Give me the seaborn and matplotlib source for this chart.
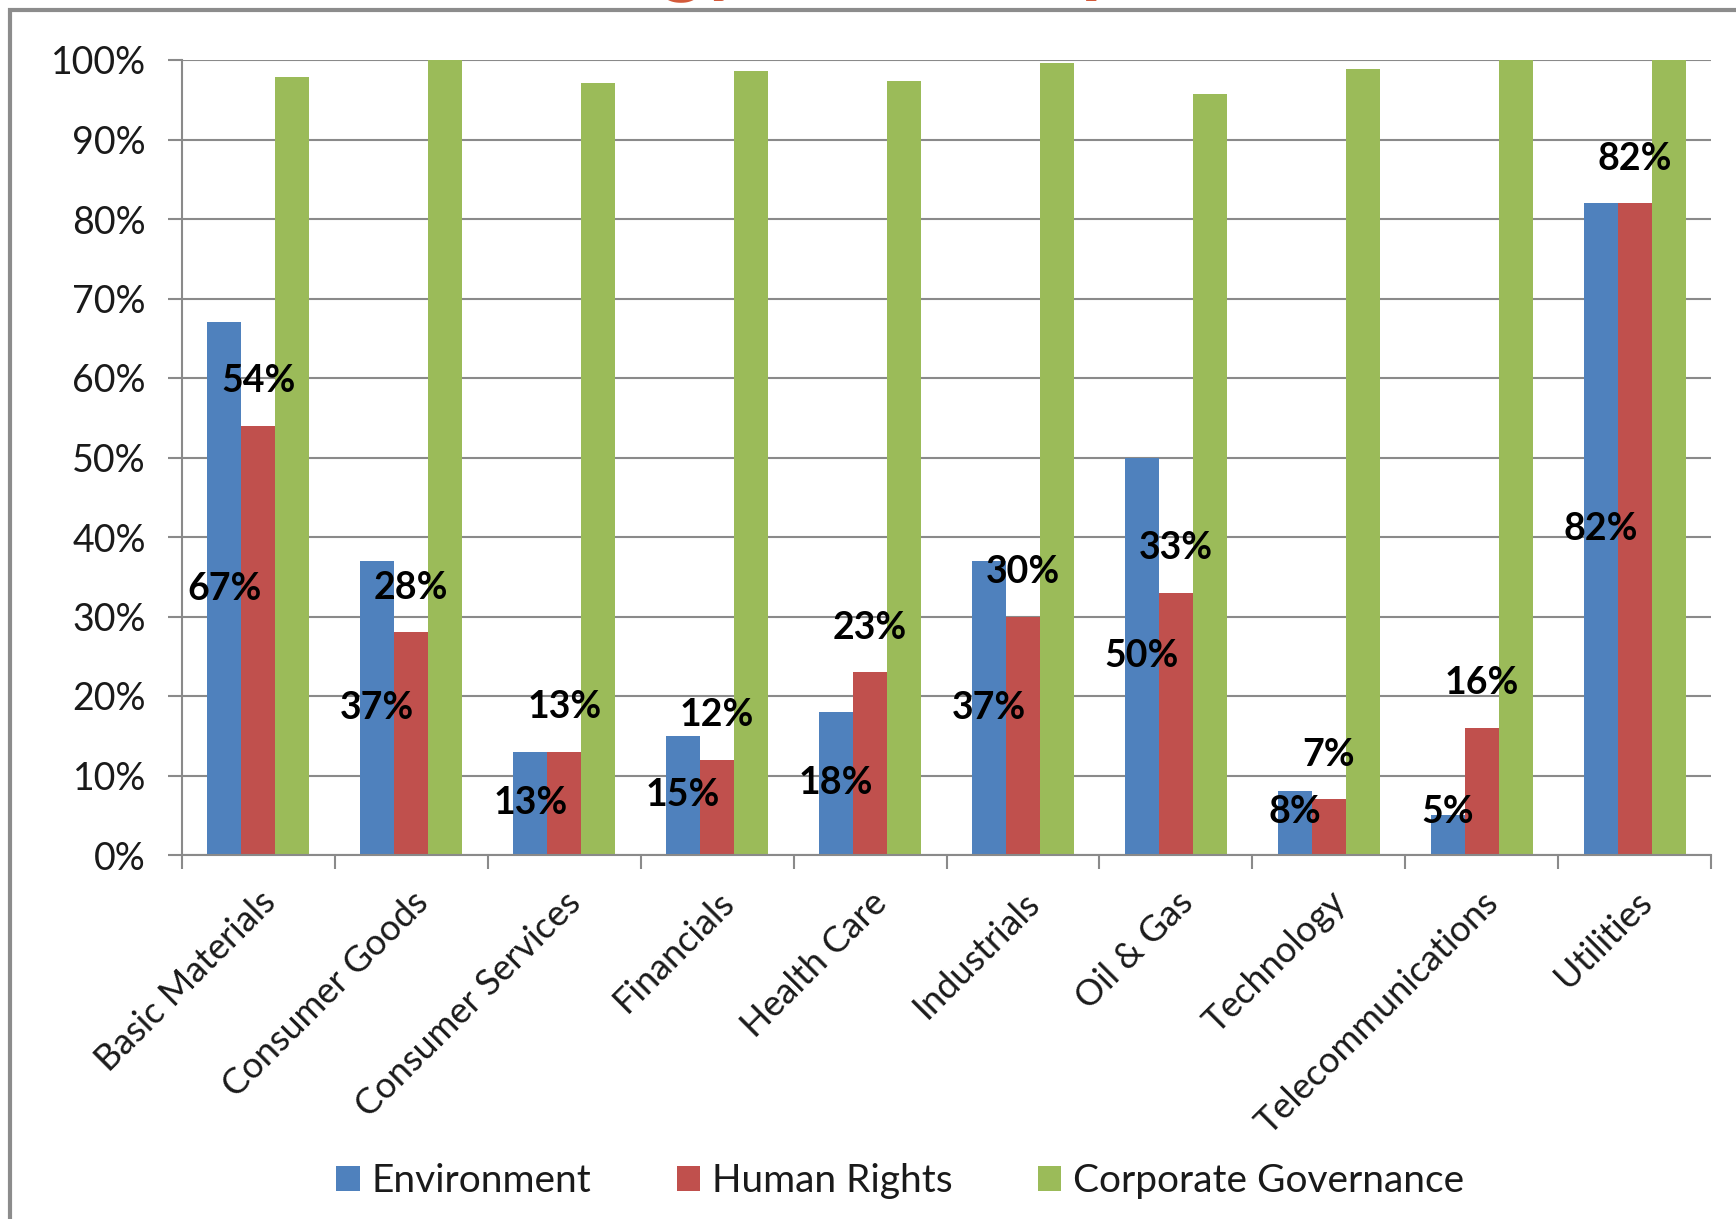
import matplotlib
matplotlib.use("Agg")
import matplotlib.pyplot as plt
import matplotlib.patches as mpatches
from matplotlib.ticker import FixedLocator, FuncFormatter
import numpy as np
import pandas as pd
import seaborn as sns

# Share of companies engaged on each topic, by sector (%)
sectors = ["Basic Materials", "Consumer Goods", "Consumer Services", "Financials",
           "Health Care", "Industrials", "Oil & Gas", "Technology",
           "Telecommunications", "Utilities"]
environment = [67, 37, 13, 15, 18, 37, 50, 8, 5, 82]
human_rights = [54, 28, 13, 12, 23, 30, 33, 7, 16, 82]
corporate_governance = [97.9, 100, 97.1, 98.6, 97.3, 99.6, 95.7, 98.9, 100, 100]
series_names = ["Environment", "Human Rights", "Corporate Governance"]
series_colors = ["#4F81BD", "#C0504D", "#9BBB59"]
y_ticks = list(range(0, 101, 10))

df = pd.DataFrame({
    "Sector": sectors * 3,
    "Topic": [series_names[0]] * 10 + [series_names[1]] * 10 + [series_names[2]] * 10,
    "Share": environment + human_rights + corporate_governance,
})

sns.set_theme(style="white")
plt.rcParams["font.family"] = ["Lato", "DejaVu Sans"]

W, H = 1736, 1219
fig = plt.figure(figsize=(W / 100, H / 100), dpi=100)
fig.patch.set_facecolor("white")

ax_left, ax_right, ax_top, ax_bottom = 182, 1711, 60, 855
ax = fig.add_axes([ax_left / W, 1 - ax_bottom / H,
                   (ax_right - ax_left) / W, (ax_bottom - ax_top) / H])

grid_col = "#8A8A8A"
for y in y_ticks:
    ax.axhline(y, color=grid_col, lw=1.5, zorder=0)

sns.barplot(data=df, x="Sector", y="Share", hue="Topic", hue_order=series_names,
            palette=series_colors, saturation=1, width=2 / 3, dodge=True,
            errorbar=None, ax=ax, legend=False, zorder=2, linewidth=0)

ax.set_xlim(-0.5, len(sectors) - 0.5)
ax.set_ylim(0, 100)
ax.set_xlabel("")
ax.set_ylabel("")

# y axis
ax.yaxis.set_major_locator(FixedLocator(y_ticks))
ax.yaxis.set_major_formatter(FuncFormatter(lambda v, p: f"{int(v)}%"))
ax.tick_params(axis="y", which="major", length=10, width=1.5, color=grid_col,
               labelsize=27, labelcolor="#1a1a1a", pad=16, left=True)

# x axis: labels at centres, tick marks at category boundaries
ax.set_xticks(range(len(sectors)))
ax.set_xticklabels(sectors, rotation=45, ha="right", rotation_mode="anchor",
                   fontsize=26, color="#1a1a1a")
ax.tick_params(axis="x", which="major", length=0, pad=22)
ax.xaxis.set_minor_locator(FixedLocator(np.arange(-0.5, len(sectors), 1.0)))
ax.tick_params(axis="x", which="minor", length=10, width=1.5, color=grid_col, bottom=True)

for side in ("top", "right"):
    ax.spines[side].set_visible(False)
for side in ("left", "bottom"):
    ax.spines[side].set_color(grid_col)
    ax.spines[side].set_linewidth(1.5)

# value labels
env_bars = ax.containers[0]
hr_bars = ax.containers[1]
for bar, v in zip(env_bars, environment):
    cx = bar.get_x() + bar.get_width() / 2
    ax.text(cx, max(v / 2, 5.4), f"{v}%", ha="center", va="center",
            fontsize=27, fontweight="bold", color="black", zorder=5)
for bar, v in zip(hr_bars, human_rights):
    cx = bar.get_x() + bar.get_width() / 2
    ax.annotate(f"{v}%", xy=(cx, v), xytext=(0, 32), textcoords="offset points",
                ha="center", va="center", fontsize=27, fontweight="bold",
                color="black", zorder=5)

# legend
handles = [mpatches.Patch(facecolor=c, edgecolor="none", label=n)
           for n, c in zip(series_names, series_colors)]
fig.legend(handles=handles, loc="center", bbox_to_anchor=(900 / W, 1 - 1181 / H),
           ncol=3, frameon=False, fontsize=28, handlelength=0.6, handleheight=0.6,
           handletextpad=0.3, columnspacing=2.2, labelcolor="#1a1a1a")

# chart frame and title band
fig.patches.append(mpatches.Rectangle((10 / W, -0.2), 1.2, 1.2 - 10 / H,
                                      transform=fig.transFigure, fill=False,
                                      edgecolor="#8C8C8C", lw=3))
fig.text(260 / W, 1 + 14 / H, "ESG Strategy Themes per Sector", ha="left",
         va="baseline", fontsize=60, fontweight="bold", color="#D35A3A")

fig.savefig("out.png", dpi=100, facecolor="white")
